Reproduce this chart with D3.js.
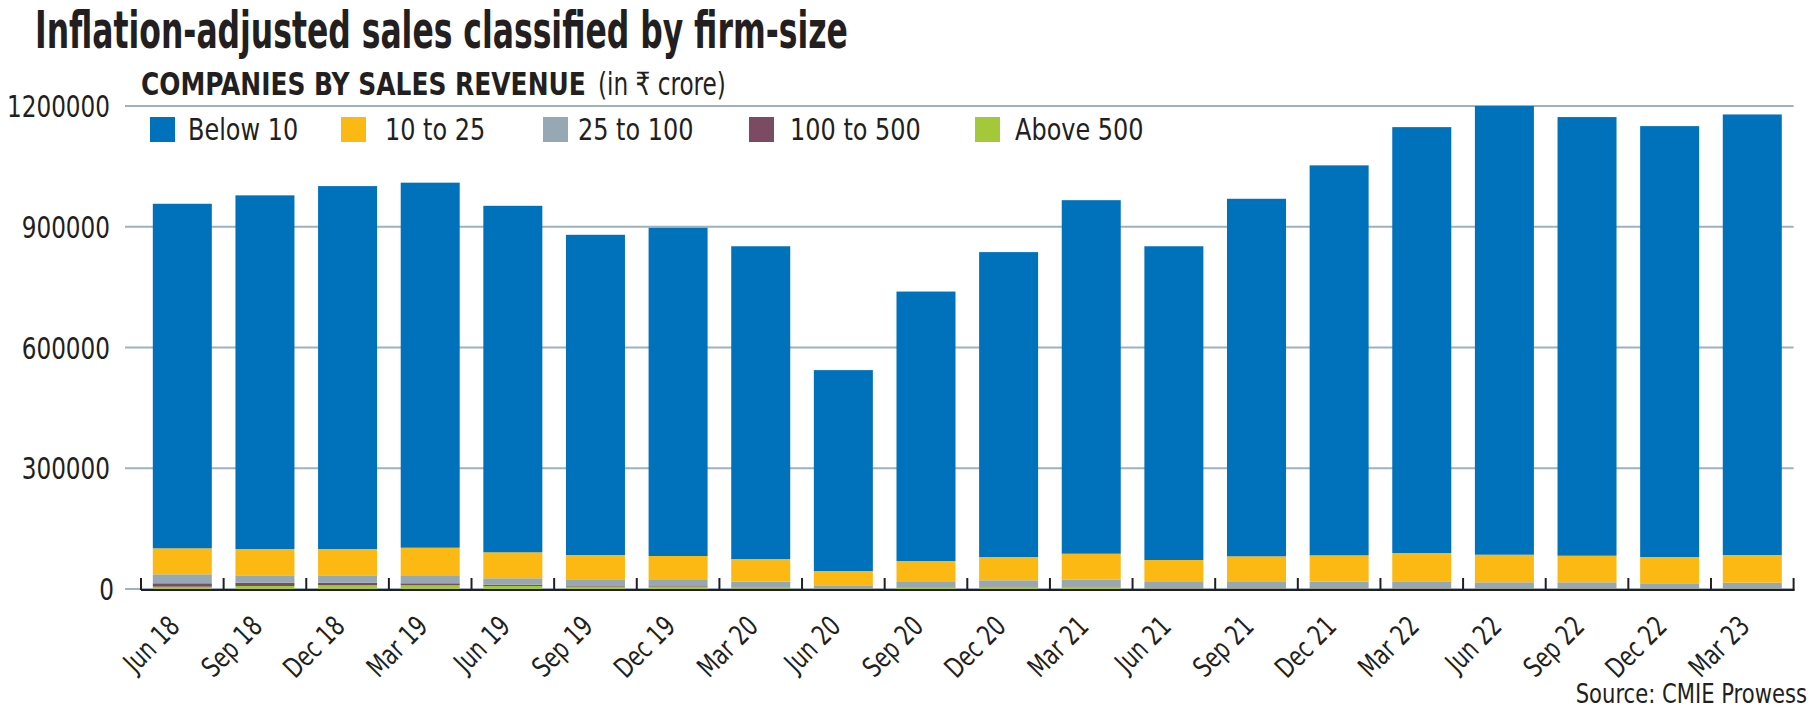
<!DOCTYPE html>
<html>
<head>
<meta charset="utf-8">
<script src="https://cdn.jsdelivr.net/npm/d3@7"></script>
<style>
  html, body { margin: 0; padding: 0; background: #fff; }
  svg { display: block; }
  text { font-family: "Liberation Sans Narrow", "DejaVu Sans Condensed", "Noto Sans", sans-serif; fill: #231f20; }
</style>
</head>
<body>
<div id="chart"></div>
<script>
// Quarters on the x axis
const quarters = ["Jun 18", "Sep 18", "Dec 18", "Mar 19", "Jun 19", "Sep 19", "Dec 19", "Mar 20",
  "Jun 20", "Sep 20", "Dec 20", "Mar 21", "Jun 21", "Sep 21", "Dec 21", "Mar 22",
  "Jun 22", "Sep 22", "Dec 22", "Mar 23"];

// Sales by firm-size group (in Rs crore)
const below10 = [856000, 878600, 901600, 906900, 860800, 795500, 815500, 777000, 499100, 669400,
  757500, 878300, 779500, 888300, 968800, 1058100, 1114800, 1089800, 1070500, 1094500];
const from10to25 = [64600, 65400, 65400, 70300, 64600, 60400, 59600, 56300, 35500, 52200,
  57900, 64600, 54600, 63800, 65500, 70300, 68600, 66100, 65300, 68800];
const from25to100 = [22300, 18300, 18300, 18100, 15900, 16600, 15000, 15000, 7700, 13900,
  14900, 16400, 15600, 15600, 16400, 17300, 14900, 14900, 12700, 14200];
const from100to500 = [8500, 8200, 6500, 5000, 3200, 1500, 1400, 1200, 500, 1000,
  1200, 1200, 800, 800, 800, 800, 700, 700, 600, 600];
const above500 = [5700, 7500, 9200, 9200, 7500, 6000, 6000, 2000, 1000, 2500,
  5500, 5500, 1000, 1000, 1000, 1000, 1000, 1000, 900, 900];

const yTicks = [0, 300000, 600000, 900000, 1200000];

// Series, bottom of the stack first
const series = [
  { key: "above500", label: "Above 500", values: above500, color: "#a3c93a" },
  { key: "from100to500", label: "100 to 500", values: from100to500, color: "#7b4a63" },
  { key: "from25to100", label: "25 to 100", values: from25to100, color: "#97a8b5" },
  { key: "from10to25", label: "10 to 25", values: from10to25, color: "#fdb913" },
  { key: "below10", label: "Below 10", values: below10, color: "#0071bb" }
];
const legendOrder = ["below10", "from10to25", "from25to100", "from100to500", "above500"];

const width = 1813, height = 715;
const plot = { left: 141, right: 1793.6, top: 106, bottom: 589, gridLeft: 125 };

const rows = quarters.map((q, i) => {
  const r = { quarter: q };
  series.forEach(s => { r[s.key] = s.values[i]; });
  return r;
});

// squeeze text horizontally (reference uses a condensed face)
// pos(d,i) gives the "translate(..) rotate(..)" part, factor is the x scale
function condense(sel, pos, factor) {
  sel.attr("transform", (d, i) => `${pos(d, i)} scale(${factor},1)`);
}
// same, but fit to a target width
function fitWidth(sel, pos, target) {
  const w = sel.node().getComputedTextLength();
  sel.attr("transform", `${pos} scale(${target / w},1)`);
}

const svg = d3.select("#chart").append("svg")
  .attr("width", width)
  .attr("height", height);

const x = d3.scaleBand()
  .domain(quarters)
  .range([plot.left, plot.right])
  .paddingInner(0.286)
  .paddingOuter(0.143);

const y = d3.scaleLinear()
  .domain([0, 1200000])
  .range([plot.bottom, plot.top]);

// Title and subtitle
svg.append("text")
  .style("font-size", "51px").style("font-weight", "bold")
  .text("Inflation-adjusted sales classified by firm-size")
  .call(fitWidth, "translate(35,48)", 813);

svg.append("text")
  .style("font-size", "32px").style("font-weight", "bold")
  .text("COMPANIES BY SALES REVENUE")
  .call(fitWidth, "translate(141,95)", 445);

svg.append("text")
  .style("font-size", "32px")
  .text("(in \u20B9 crore)")
  .call(fitWidth, "translate(598,95)", 128);

// Gridlines
svg.append("g").selectAll("line")
  .data(yTicks)
  .join("line")
  .attr("x1", plot.gridLeft).attr("x2", plot.right)
  .attr("y1", d => y(d)).attr("y2", d => y(d))
  .style("stroke", "#9eb1be")
  .style("stroke-width", 2);

svg.append("g").selectAll("text")
  .data(yTicks)
  .join("text")
  .attr("text-anchor", "end")
  .style("font-size", "31px")
  .text(d => d)
  .call(condense, d => `translate(${d === 0 ? 114 : 110},${y(d) + 11})`, 0.83);

// Stacked bars
const stack = d3.stack().keys(series.map(s => s.key));
const layers = stack(rows);

svg.append("g").selectAll("g")
  .data(layers)
  .join("g")
  .style("fill", d => series.find(s => s.key === d.key).color)
  .selectAll("rect")
  .data(d => d)
  .join("rect")
  .attr("x", d => x(d.data.quarter))
  .attr("width", x.bandwidth())
  .attr("y", d => y(d[1]))
  .attr("height", d => y(d[0]) - y(d[1]));

// Baseline with ticks between bars
const step = x.step();
const tickXs = quarters.map(q => x(q) - step * x.paddingInner() / 2)
  .concat([x(quarters[quarters.length - 1]) + x.bandwidth() + step * x.paddingInner() / 2]);

svg.append("line")
  .attr("x1", plot.left).attr("x2", plot.right + 1)
  .attr("y1", plot.bottom + 1).attr("y2", plot.bottom + 1)
  .style("stroke", "#231f20").style("stroke-width", 2);

svg.append("g").selectAll("line")
  .data(tickXs)
  .join("line")
  .attr("x1", d => d).attr("x2", d => d)
  .attr("y1", plot.bottom - 11).attr("y2", plot.bottom + 1)
  .style("stroke", "#231f20").style("stroke-width", 2);

// Rotated quarter labels
svg.append("g").selectAll("text")
  .data(quarters)
  .join("text")
  .attr("text-anchor", "end")
  .style("font-size", "28px")
  .text(d => d)
  .call(condense, d => `translate(${x(d) + x.bandwidth() / 2 - 1},628) rotate(-45)`, 0.82);

// Legend
const legendX = [150, 341, 543, 749, 975];
const legendGap = [38, 44, 35, 41, 40];
const legend = svg.append("g").selectAll("g")
  .data(legendOrder.map(k => series.find(s => s.key === k)))
  .join("g")
  .attr("transform", (d, i) => `translate(${legendX[i]},117)`);

legend.append("rect")
  .attr("width", 25).attr("height", 25)
  .style("fill", d => d.color);

legend.append("text")
  .style("font-size", "31px")
  .text(d => d.label)
  .call(condense, (d, i) => `translate(${legendGap[i]},23)`, 0.86);

// Source
svg.append("text")
  .attr("text-anchor", "end")
  .style("font-size", "27px")
  .text("Source: CMIE Prowess")
  .call(condense, () => "translate(1807,703)", 0.87);
</script>
</body>
</html>
